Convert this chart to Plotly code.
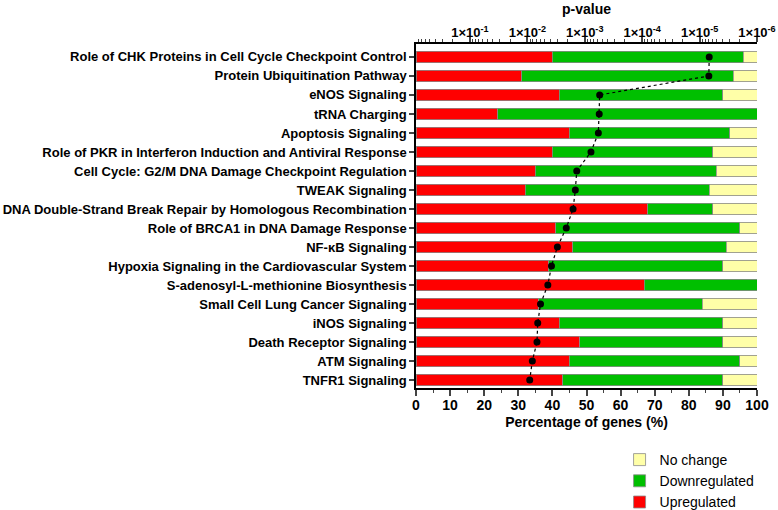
import plotly.graph_objects as go

pathways = [
    "Role of CHK Proteins in Cell Cycle Checkpoint Control",
    "Protein Ubiquitination Pathway",
    "eNOS Signaling",
    "tRNA Charging",
    "Apoptosis Signaling",
    "Role of PKR in Interferon Induction and Antiviral Response",
    "Cell Cycle: G2/M DNA Damage Checkpoint Regulation",
    "TWEAK Signaling",
    "DNA Double-Strand Break Repair by Homologous Recombination",
    "Role of BRCA1 in DNA Damage Response",
    "NF-\u03baB Signaling",
    "Hypoxia Signaling in the Cardiovascular System",
    "S-adenosyl-L-methionine Biosynthesis",
    "Small Cell Lung Cancer Signaling",
    "iNOS Signaling",
    "Death Receptor Signaling",
    "ATM Signaling",
    "TNFR1 Signaling",
]
upregulated = [40, 31, 42, 24, 45, 40, 35, 32, 68, 41, 46, 39, 67, 36, 42, 48, 45, 43]
downregulated = [56, 62, 48, 76, 47, 47, 53, 54, 19, 54, 45, 51, 33, 48, 48, 42, 50, 47]
no_change = [4, 7, 10, 0, 8, 13, 12, 14, 13, 5, 9, 10, 0, 16, 10, 10, 5, 10]
p_values = [6.8e-6, 6.9e-6, 5.5e-4, 5.6e-4, 5.8e-4, 7.8e-4, 1.38e-3, 1.46e-3, 1.6e-3,
            2.1e-3, 3.0e-3, 3.8e-3, 4.4e-3, 5.9e-3, 6.6e-3, 6.8e-3, 8.2e-3, 9.1e-3]
p_tick_vals = [1e-1, 1e-2, 1e-3, 1e-4, 1e-5, 1e-6]
p_tick_text = ["1\u00d710<sup>-1</sup>", "1\u00d710<sup>-2</sup>", "1\u00d710<sup>-3</sup>",
               "1\u00d710<sup>-4</sup>", "1\u00d710<sup>-5</sup>", "1\u00d710<sup>-6</sup>"]

FONT = "Liberation Sans, Arial, sans-serif"
outline = dict(color="#8a8a8a", width=0.8)

fig = go.Figure()
fig.add_trace(go.Bar(y=pathways, x=upregulated, orientation="h", name="Upregulated",
                     marker=dict(color="#FF0000", line=outline), width=0.62))
fig.add_trace(go.Bar(y=pathways, x=downregulated, orientation="h", name="Downregulated",
                     marker=dict(color="#00BF00", line=outline), width=0.62))
fig.add_trace(go.Bar(y=pathways, x=no_change, orientation="h", name="No change",
                     marker=dict(color="#FFFFA8", line=outline), width=0.62))
fig.add_trace(go.Scatter(y=pathways, x=p_values, xaxis="x2", mode="lines+markers",
                         line=dict(color="black", width=1.2, dash="dot"),
                         marker=dict(color="black", size=7), showlegend=False))

minor_vals = []
for e in range(0, 7):
    for m in range(2, 10):
        v = m * 10 ** (-e - 1)
        if 1e-6 <= v <= 0.87:
            minor_vals.append(v)

fig.update_layout(
    barmode="stack",
    width=778, height=510,
    margin=dict(l=416, r=21, t=44, b=122),
    plot_bgcolor="white", paper_bgcolor="white",
    font=dict(family=FONT, color="black"),
    xaxis=dict(range=[0, 100], tickmode="linear", tick0=0, dtick=10, automargin=False,
               ticks="outside", ticklen=6, tickwidth=1.5, showline=True, linewidth=1.5,
               linecolor="black", showgrid=False, zeroline=False,
               tickfont=dict(size=14, weight="bold"),
               minor=dict(dtick=5, ticks="outside", ticklen=3, tickwidth=1.2, showgrid=False),
               title=dict(text="Percentage of genes (%)", font=dict(size=14, weight="bold"), standoff=6)),
    xaxis2=dict(type="log", overlaying="x", side="top", range=[-0.06, -6], automargin=False,
                tickmode="array", tickvals=p_tick_vals, ticktext=p_tick_text,
                ticks="outside", ticklen=5, tickwidth=1.5, showline=True, linewidth=1.5,
                linecolor="black", showgrid=False, zeroline=False,
                tickfont=dict(size=13, weight="bold"),
                minor=dict(tickmode="array", tickvals=minor_vals, ticks="outside",
                           ticklen=3, tickwidth=1, showgrid=False),
                title=dict(text="p-value", font=dict(size=14, weight="bold"), standoff=6)),
    yaxis=dict(categoryorder="array", categoryarray=pathways, range=[17.42, -0.68],
               automargin=False,
               ticks="outside", ticklen=5, tickwidth=1.5, showline=True, linewidth=1.5,
               linecolor="black", showgrid=False, zeroline=False,
               tickfont=dict(size=13, weight="bold")),
    legend=dict(x=0.597, xref="paper", y=1 - 444 / 510, yref="container",
                xanchor="left", yanchor="top", traceorder="reversed",
                font=dict(size=14), bgcolor="rgba(0,0,0,0)", tracegroupgap=0),
    showlegend=True,
)

try:
    fig.update_layout(xaxis2_ticklabelstandoff=-5)
except Exception:
    pass
try:
    fig.update_layout(xaxis_ticklabelstandoff=-3)
except Exception:
    pass

fig.write_html("out.html", post_script="document.body.style.margin='0';",
               config={"displayModeBar": False})
